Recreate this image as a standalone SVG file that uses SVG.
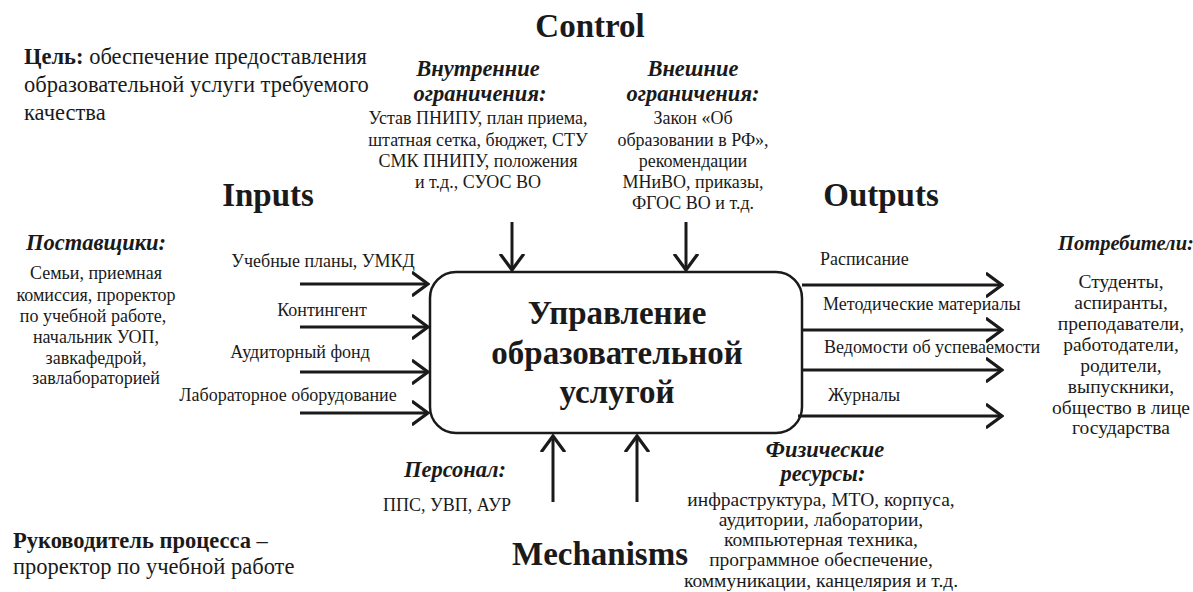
<svg xmlns="http://www.w3.org/2000/svg" width="1193" height="592" viewBox="0 0 1193 592">
<style>
text{font-family:"Liberation Serif","Times New Roman",serif;fill:#1a1a1a}
.h{font-size:33px;font-weight:bold;text-anchor:middle}
.hi{font-size:22.5px;font-weight:bold;font-style:italic;text-anchor:middle}
.b{font-size:18px;text-anchor:middle}
.b2{font-size:19.5px;text-anchor:middle}
.l{font-size:18px}
.n{font-size:22.5px}
.box{fill:#fff;stroke:#1a1a1a;stroke-width:2.5}
.t{font-size:33px;font-weight:bold;text-anchor:middle}
.c line{stroke:#1a1a1a;stroke-width:3;fill:none}
</style>
<defs>
<marker id="ah" viewBox="0 0 10 14" refX="9" refY="7" markerWidth="6" markerHeight="8.4" markerUnits="strokeWidth" orient="auto">
<path d="M0,0.4 L9,7 L0,13.6" fill="none" stroke="#1a1a1a" stroke-width="1.8"/>
</marker>
</defs>
<rect width="1193" height="592" fill="#fff"/>

<g id="goal">
<text class="n" x="24" y="64"><tspan font-weight="bold">Цель:</tspan> обеспечение предоставления</text>
<text class="n" x="24" y="92">образовательной услуги требуемого</text>
<text class="n" x="24" y="120">качества</text>
</g>
<g id="owner">
<text class="n" x="13" y="548"><tspan font-weight="bold">Руководитель процесса</tspan>  –</text>
<text class="n" x="13" y="574">проректор по учебной работе</text>
</g>

<g id="titles">
<text class="h" x="590" y="37">Control</text>
<text class="h" x="268" y="206">Inputs</text>
<text class="h" x="881" y="206">Outputs</text>
<text class="h" x="600" y="565">Mechanisms</text>
</g>

<g id="process">
<rect class="box" x="430" y="272" width="372" height="161" rx="26" ry="26"/>
<text class="t" x="617" y="324">Управление</text>
<text class="t" x="617" y="364">образовательной</text>
<text class="t" x="617" y="403">услугой</text>
</g>

<g id="internal">
<text class="hi" x="478" y="76">Внутренние</text>
<text class="hi" x="480" y="101">ограничения:</text>
<text class="b" x="478" y="124">Устав ПНИПУ, план приема,</text>
<text class="b" x="478" y="146">штатная сетка, бюджет, СТУ</text>
<text class="b" x="478" y="167">СМК ПНИПУ, положения</text>
<text class="b" x="478" y="188">и т.д., СУОС ВО</text>
</g>
<g id="external">
<text class="hi" x="693" y="76">Внешние</text>
<text class="hi" x="693" y="101">ограничения:</text>
<text class="b" x="693" y="124">Закон «Об</text>
<text class="b" x="693" y="146">образовании в РФ»,</text>
<text class="b" x="693" y="167">рекомендации</text>
<text class="b" x="693" y="188">МНиВО, приказы,</text>
<text class="b" x="693" y="209">ФГОС ВО и т.д.</text>
</g>

<g id="suppliers">
<text class="hi" x="96" y="250">Поставщики:</text>
<text class="b" x="96" y="279">Семьи, приемная</text>
<text class="b" x="96" y="301">комиссия, проректор</text>
<text class="b" x="93" y="322">по учебной работе,</text>
<text class="b" x="96" y="343">начальник УОП,</text>
<text class="b" x="96" y="364">завкафедрой,</text>
<text class="b" x="96" y="384">завлабораторией</text>
</g>

<g id="consumers">
<text class="hi" x="1058" y="250" style="text-anchor:start;font-size:20.5px">Потребители:</text>
<text class="b2" x="1121" y="288">Студенты,</text>
<text class="b2" x="1121" y="309">аспиранты,</text>
<text class="b2" x="1121" y="330">преподаватели,</text>
<text class="b2" x="1121" y="351">работодатели,</text>
<text class="b2" x="1121" y="372">родители,</text>
<text class="b2" x="1121" y="393">выпускники,</text>
<text class="b2" x="1121" y="414">общество в лице</text>
<text class="b2" x="1121" y="434">государства</text>
</g>

<g id="personnel">
<text class="hi" x="455" y="477">Персонал:</text>
<text class="b" x="447" y="511">ППС, УВП, АУР</text>
</g>
<g id="physical">
<text class="hi" x="825" y="457">Физические</text>
<text class="hi" x="823" y="481">ресурсы:</text>
<text class="b2" x="821" y="506">инфраструктура, МТО, корпуса,</text>
<text class="b2" x="821" y="526">аудитории, лаборатории,</text>
<text class="b2" x="821" y="546">компьютерная техника,</text>
<text class="b2" x="821" y="566">программное обеспечение,</text>
<text class="b2" x="821" y="587">коммуникации, канцелярия и т.д.</text>
</g>

<g id="labels">
<text class="b" x="323" y="267">Учебные планы, УМКД</text>
<text class="b" x="322" y="316">Контингент</text>
<text class="b" x="300" y="358">Аудиторный фонд</text>
<text class="b" x="288" y="401">Лабораторное оборудование</text>
<text class="l" x="820" y="265">Расписание</text>
<text class="l" x="823" y="310">Методические материалы</text>
<text class="l" x="824" y="353">Ведомости об успеваемости</text>
<text class="l" x="828" y="401">Журналы</text>
</g>

<g id="connectors" class="c">
<line x1="300" y1="284" x2="428" y2="284" marker-end="url(#ah)"/>
<line x1="300" y1="327" x2="428" y2="327" marker-end="url(#ah)"/>
<line x1="300" y1="372" x2="428" y2="372" marker-end="url(#ah)"/>
<line x1="300" y1="413" x2="428" y2="413" marker-end="url(#ah)"/>
<line x1="802" y1="285" x2="1002" y2="285" marker-end="url(#ah)"/>
<line x1="802" y1="330" x2="1002" y2="330" marker-end="url(#ah)"/>
<line x1="802" y1="370" x2="1002" y2="370" marker-end="url(#ah)"/>
<line x1="798" y1="416" x2="1002" y2="416" marker-end="url(#ah)"/>
<line x1="512" y1="222" x2="512" y2="270" marker-end="url(#ah)"/>
<line x1="686" y1="222" x2="686" y2="270" marker-end="url(#ah)"/>
<line x1="553" y1="502" x2="553" y2="436" marker-end="url(#ah)"/>
<line x1="637" y1="502" x2="637" y2="436" marker-end="url(#ah)"/>
</g>
</svg>
